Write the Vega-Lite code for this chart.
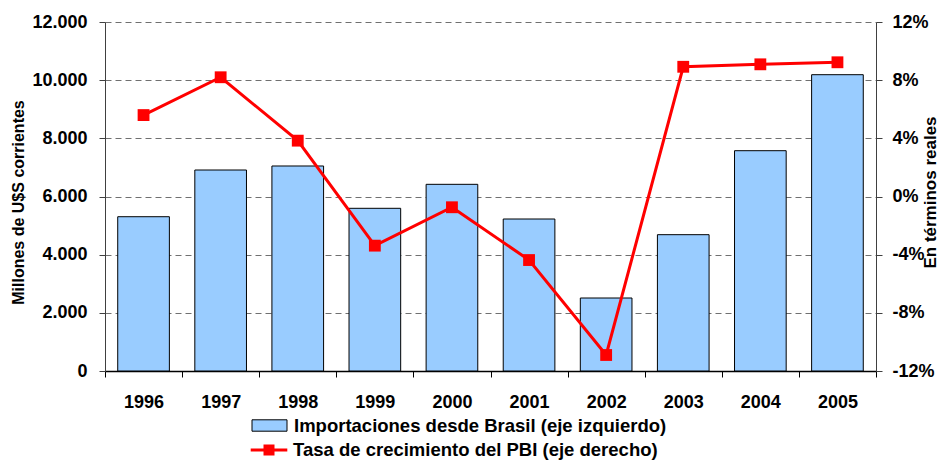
{
  "$schema": "https://vega.github.io/schema/vega-lite/v6.json",
  "width": 771,
  "height": 349,
  "autosize": {"type": "none"},
  "padding": {"left": 105, "top": 22, "right": 65, "bottom": 90},
  "background": "white",
  "config": {
    "view": {"stroke": null},
    "font": "Liberation Sans",
    "axis": {
      "labelFont": "Liberation Sans",
      "labelFontWeight": "bold",
      "labelFontSize": 18,
      "labelColor": "black",
      "titleFont": "Liberation Sans",
      "titleFontWeight": "bold",
      "titleFontSize": 16,
      "titleColor": "black",
      "domainColor": "#404040",
      "tickColor": "#404040",
      "tickSize": 6
    },
    "legend": {
      "labelFont": "Liberation Sans",
      "labelFontWeight": "bold",
      "labelFontSize": 18.5,
      "labelColor": "black",
      "labelLimit": 0,
      "padding": 0
    }
  },
  "data": {
    "values": [
      {"year": "1996", "imp": 5305, "pbi": 5.6},
      {"year": "1997", "imp": 6911, "pbi": 8.2},
      {"year": "1998", "imp": 7049, "pbi": 3.84},
      {"year": "1999", "imp": 5594, "pbi": -3.38},
      {"year": "2000", "imp": 6419, "pbi": -0.74},
      {"year": "2001", "imp": 5226, "pbi": -4.37},
      {"year": "2002", "imp": 2510, "pbi": -10.9},
      {"year": "2003", "imp": 4687, "pbi": 8.92},
      {"year": "2004", "imp": 7575, "pbi": 9.09},
      {"year": "2005", "imp": 10188, "pbi": 9.23}
    ]
  },
  "encoding": {
    "x": {
      "field": "year",
      "type": "nominal",
      "scale": {"paddingInner": 0, "paddingOuter": 0},
      "axis": {
        "title": null,
        "labelAngle": 0,
        "tickBand": "extent",
        "labelPadding": 16,
        "domainColor": "black",
        "domainWidth": 1.5,
        "tickColor": "black"
      }
    }
  },
  "layer": [
    {
      "mark": {"type": "bar", "width": {"band": 0.67}, "stroke": "black", "strokeWidth": 1},
      "encoding": {
        "y": {
          "field": "imp",
          "type": "quantitative",
          "scale": {"domain": [0, 12000], "nice": false},
          "axis": {
            "title": "Millones de U$S corrientes",
            "titleY": 180,
            "values": [0, 2000, 4000, 6000, 8000, 10000, 12000],
            "labelExpr": "replace(format(datum.value, ','), ',', '.')",
            "labelPadding": 12,
            "titlePadding": 5,
            "grid": true,
            "gridDash": [6, 4],
            "gridColor": "#707070",
            "gridWidth": 1
          }
        },
        "fill": {
          "datum": "Importaciones desde Brasil (eje izquierdo)",
          "scale": {"range": ["#99CCFF"]},
          "legend": {
            "title": null,
            "orient": "none",
            "legendX": 154,
            "legendY": 393,
            "symbolType": "M-1.75,-0.57H1.75V0.57H-1.75Z",
            "symbolSize": 400,
            "symbolStrokeColor": "black",
            "symbolStrokeWidth": 1,
            "labelOffset": 14
          }
        }
      }
    },
    {
      "layer": [
        {
          "mark": {"type": "line", "strokeWidth": 3},
          "encoding": {
            "y": {"field": "pbi", "type": "quantitative"},
            "stroke": {
              "datum": "Tasa de crecimiento del PBI (eje derecho)",
              "scale": {"range": ["#FF0000"]},
              "legend": {
                "title": null,
                "orient": "none",
                "legendX": 154,
                "legendY": 418,
                "symbolType": "M-1.83,-0.15H1.83V0.15H-1.83Z M-0.55,-0.55H0.55V0.55H-0.55Z",
                "symbolSize": 400,
                "symbolFillColor": "#FF0000",
                "symbolStrokeWidth": 0,
                "labelOffset": 14
              }
            }
          }
        },
        {
          "mark": {"type": "point", "shape": "square", "filled": true, "size": 140, "color": "#FF0000", "opacity": 1},
          "encoding": {
            "y": {"field": "pbi", "type": "quantitative"}
          }
        }
      ],
      "encoding": {
        "y": {
          "field": "pbi",
          "type": "quantitative",
          "scale": {"domain": [-12, 12], "nice": false},
          "axis": {
            "orient": "right",
            "title": "En términos reales",
            "titleAngle": 270,
            "titleFontSize": 17,
            "titleY": 170,
            "values": [-12, -8, -4, 0, 4, 8, 12],
            "labelExpr": "datum.value + '%'",
            "labelPadding": 10,
            "titlePadding": 5,
            "grid": false
          }
        }
      }
    }
  ],
  "resolve": {"scale": {"y": "independent", "fill": "independent", "stroke": "independent"}}
}
